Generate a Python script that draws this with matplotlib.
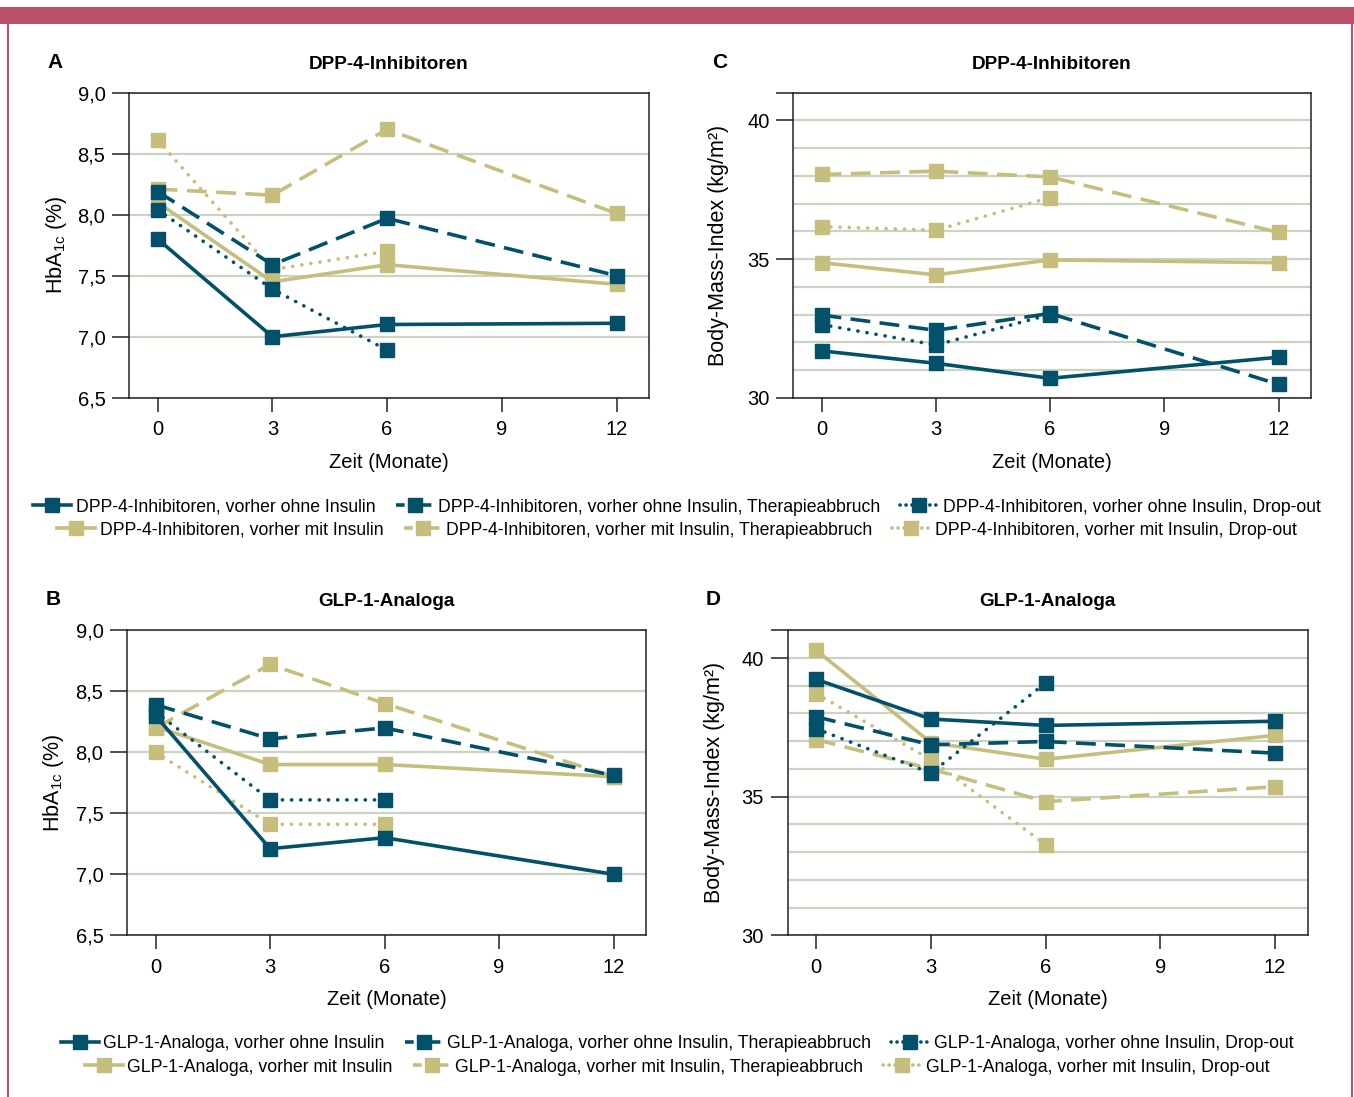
import matplotlib
matplotlib.use("Agg")
import matplotlib.pyplot as plt
from matplotlib.lines import Line2D

# months of follow-up
months = [0, 3, 6, 12]
months_drop = [0, 3, 6]

# A: HbA1c, DPP-4-Inhibitoren
a_ohne = [7.80, 7.00, 7.10, 7.11]
a_ohne_abbruch = [8.19, 7.59, 7.97, 7.50]
a_ohne_drop = [8.04, 7.39, 6.89]
a_mit = [8.10, 7.45, 7.59, 7.43]
a_mit_abbruch = [8.21, 8.16, 8.70, 8.01]
a_mit_drop = [8.61, 7.55, 7.70]

# C: BMI, DPP-4-Inhibitoren
c_ohne = [31.69, 31.24, 30.70, 31.46]
c_ohne_abbruch = [32.98, 32.43, 33.04, 30.48]
c_ohne_drop = [32.64, 31.90, 33.00]
c_mit = [34.87, 34.43, 34.97, 34.87]
c_mit_abbruch = [38.05, 38.17, 37.96, 35.96]
c_mit_drop = [36.17, 36.04, 37.22]

# B: HbA1c, GLP-1-Analoga
b_ohne = [8.30, 7.21, 7.30, 7.00]
b_ohne_abbruch = [8.39, 8.11, 8.20, 7.81]
b_ohne_drop = [8.33, 7.61, 7.61]
b_mit = [8.21, 7.90, 7.90, 7.80]
b_mit_abbruch = [8.20, 8.72, 8.40, 7.80]
b_mit_drop = [8.00, 7.41, 7.41]

# D: BMI, GLP-1-Analoga
d_ohne = [39.23, 37.80, 37.57, 37.72]
d_ohne_abbruch = [37.88, 36.87, 36.99, 36.57]
d_ohne_drop = [37.45, 35.85, 39.10]
d_mit = [40.28, 36.95, 36.35, 37.21]
d_mit_abbruch = [37.06, 36.00, 34.82, 35.36]
d_mit_drop = [38.72, 36.33, 33.27]

hba1c_ticks = [6.5, 7.0, 7.5, 8.0, 8.5, 9.0]
hba1c_labels = ['6,5', '7,0', '7,5', '8,0', '8,5', '9,0']
bmi_ticks = [30, 35, 40, 41]
bmi_labels = ['30', '35', '40', '']

DARK = '#03506a'
KHAKI = '#c6be7d'
GRID = '#cbd4c3'
BORDER = '#bb506d'

plt.rcParams['font.family'] = ['Liberation Sans', 'DejaVu Sans']

LW = 2.6
MS = 9.5
DASH = (5.5, 2.6)
DOT = (0.05, 2.5)


def style_kw(color, kind):
    kw = dict(color=color, lw=LW, marker='s', ms=MS, mec=color, mfc=color)
    if kind == 'dash':
        kw['dashes'] = DASH
    elif kind == 'dot':
        kw['dashes'] = DOT
        kw['dash_capstyle'] = 'round'
    return kw


def panel(ax, series, ticks, labels, ylim, minor, ylabel, letter, title, lab_x):
    ohne, ohne_ab, ohne_dr, mit, mit_ab, mit_dr = series
    # khaki first, dark on top
    ax.plot(months, mit_ab, **style_kw(KHAKI, 'dash'))
    ax.plot(months_drop, mit_dr, **style_kw(KHAKI, 'dot'))
    ax.plot(months, mit, **style_kw(KHAKI, 'solid'))
    ax.plot(months, ohne_ab, **style_kw(DARK, 'dash'))
    ax.plot(months_drop, ohne_dr, **style_kw(DARK, 'dot'))
    ax.plot(months, ohne, **style_kw(DARK, 'solid'))

    ax.set_xlim(-0.75, 12.85)
    ax.set_ylim(*ylim)
    ax.set_xticks([0, 3, 6, 9, 12])
    ax.set_yticks(ticks)
    ax.set_yticklabels(labels)
    if minor is not None:
        ax.set_yticks(minor, minor=True)
        ax.tick_params(axis='y', which='minor', length=0)
    ax.grid(axis='y', which='both', color=GRID, lw=1.6)
    ax.set_axisbelow(True)
    for s in ax.spines.values():
        s.set_linewidth(1.1)
        s.set_color('#222222')
    ax.tick_params(axis='y', which='major', length=12, width=1.1, pad=5,
                   labelsize=14.5, color='#222222')
    ax.tick_params(axis='x', length=10, width=1.1, pad=6, labelsize=14.5,
                   color='#222222')
    ax.set_ylabel(ylabel, fontsize=15.5)
    ax.yaxis.set_label_coords(lab_x, 0.5)
    ax.set_xlabel('Zeit (Monate)', fontsize=14.5)
    ax.xaxis.set_label_coords(0.5, -0.18)
    ax.text(-0.157, 1.1, letter, transform=ax.transAxes, fontsize=15,
            fontweight='bold', ha='left', va='center')
    ax.text(0.5, 1.093, title, transform=ax.transAxes, fontsize=13.6,
            fontweight='bold', ha='center', va='center')


fig = plt.figure(figsize=(13.54, 10.97), dpi=100)

# decorative border
fig.add_artist(plt.Rectangle((0, 1 - 24 / 1097), 1, 17 / 1097,
                             transform=fig.transFigure, color=BORDER, lw=0))
fig.add_artist(plt.Rectangle((7 / 1354, 0), 2.2 / 1354, 1 - 24 / 1097,
                             transform=fig.transFigure, color=BORDER, lw=0))
fig.add_artist(plt.Rectangle((1350.5 / 1354, 0), 2.2 / 1354, 1 - 24 / 1097,
                             transform=fig.transFigure, color=BORDER, lw=0))

ax_a = fig.add_axes([129 / 1354, 1 - 397.7 / 1097, 520 / 1354, 305 / 1097])
ax_c = fig.add_axes([793 / 1354, 1 - 397.7 / 1097, 518 / 1354, 305 / 1097])
ax_b = fig.add_axes([127 / 1354, 1 - 935.3 / 1097, 519 / 1354, 305 / 1097])
ax_d = fig.add_axes([787.5 / 1354, 1 - 935.3 / 1097, 520 / 1354, 305 / 1097])

hba1c_label = r'HbA$_{\mathregular{1c}}$ (%)'
bmi_label = 'Body-Mass-Index (kg/m²)'
bmi_minor = list(range(31, 41))

panel(ax_a, [a_ohne, a_ohne_abbruch, a_ohne_drop, a_mit, a_mit_abbruch, a_mit_drop],
      hba1c_ticks, hba1c_labels, (6.5, 9.0), None, hba1c_label, 'A',
      'DPP-4-Inhibitoren', -0.115)
panel(ax_c, [c_ohne, c_ohne_abbruch, c_ohne_drop, c_mit, c_mit_abbruch, c_mit_drop],
      bmi_ticks, bmi_labels, (30, 41), bmi_minor, bmi_label, 'C',
      'DPP-4-Inhibitoren', -0.123)
panel(ax_b, [b_ohne, b_ohne_abbruch, b_ohne_drop, b_mit, b_mit_abbruch, b_mit_drop],
      hba1c_ticks, hba1c_labels, (6.5, 9.0), None, hba1c_label, 'B',
      'GLP-1-Analoga', -0.118)
panel(ax_d, [d_ohne, d_ohne_abbruch, d_ohne_drop, d_mit, d_mit_abbruch, d_mit_drop],
      bmi_ticks, bmi_labels, (30, 41), bmi_minor, bmi_label, 'D',
      'GLP-1-Analoga', -0.120)


def leg_handle(color, kind):
    kw = dict(color=color, lw=LW, marker='s', ms=MS, mec=color, mfc=color)
    if kind == 'dash':
        kw['dashes'] = (2.4, 1.3)
    elif kind == 'dot':
        kw['dashes'] = (0.05, 1.6)
        kw['dash_capstyle'] = 'round'
    return Line2D([], [], **kw)


def legend_row(drug, color, prior, y):
    handles = [leg_handle(color, 'solid'), leg_handle(color, 'dash'),
               leg_handle(color, 'dot')]
    labels = [f'{drug}, vorher {prior} Insulin',
              f'{drug}, vorher {prior} Insulin, Therapieabbruch',
              f'{drug}, vorher {prior} Insulin, Drop-out']
    fig.legend(handles, labels, loc='center', bbox_to_anchor=(0.5, y),
               ncol=3, frameon=False, fontsize=12.7, handlelength=2.15,
               handletextpad=0.25, columnspacing=1.15, numpoints=1,
               borderpad=0, borderaxespad=0)


legend_row('DPP-4-Inhibitoren', DARK, 'ohne', 1 - 507 / 1097)
legend_row('DPP-4-Inhibitoren', KHAKI, 'mit', 1 - 530 / 1097)
legend_row('GLP-1-Analoga', DARK, 'ohne', 1 - 1044 / 1097)
legend_row('GLP-1-Analoga', KHAKI, 'mit', 1 - 1067 / 1097)

fig.savefig('out.png', dpi=100)
